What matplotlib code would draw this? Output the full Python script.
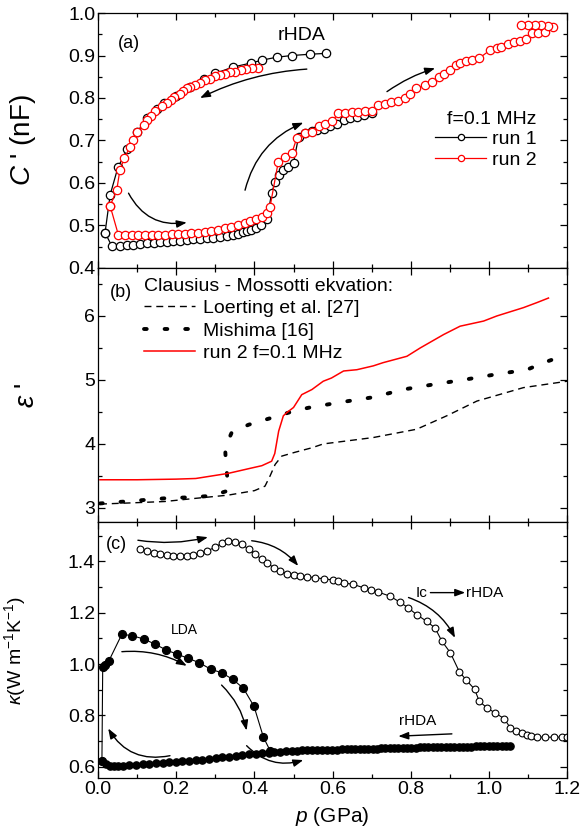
import matplotlib
matplotlib.use("Agg")
import matplotlib.pyplot as plt
from matplotlib.ticker import MultipleLocator, FormatStrFormatter

plt.rcParams["font.family"] = ["Liberation Sans", "DejaVu Sans"]
plt.rcParams["mathtext.fontset"] = "custom"
plt.rcParams["mathtext.rm"] = "Liberation Sans"
plt.rcParams["mathtext.it"] = "Liberation Sans:italic"

# ── (a) capacitance, f = 0.1 MHz ─────────────────────────────────────────────
run1_comp_p = [0.018, 0.035, 0.056, 0.073, 0.090, 0.107, 0.125, 0.142, 0.159, 0.176,
               0.193, 0.210, 0.227, 0.244, 0.261, 0.278, 0.295, 0.312, 0.329, 0.346,
               0.358, 0.370, 0.380, 0.392, 0.405, 0.418, 0.432, 0.444, 0.453, 0.464,
               0.474, 0.487, 0.500, 0.513, 0.530, 0.547, 0.560, 0.577, 0.594, 0.611,
               0.628, 0.645, 0.662, 0.680, 0.700]
run1_comp_c = [0.483, 0.452, 0.452, 0.454, 0.455, 0.456, 0.458, 0.459, 0.460, 0.462,
               0.463, 0.464, 0.465, 0.467, 0.468, 0.470, 0.471, 0.473, 0.475, 0.477,
               0.480, 0.485, 0.488, 0.490, 0.493, 0.500, 0.515, 0.576, 0.603, 0.619,
               0.631, 0.638, 0.648, 0.709, 0.718, 0.722, 0.725, 0.728, 0.733, 0.738,
               0.748, 0.752, 0.756, 0.760, 0.765]
run1_dec_p = [0.583, 0.542, 0.496, 0.457, 0.419, 0.390, 0.346, 0.300, 0.270, 0.235,
              0.200, 0.170, 0.150, 0.125, 0.100, 0.075, 0.051, 0.031, 0.018]
run1_dec_c = [0.905, 0.903, 0.900, 0.896, 0.889, 0.882, 0.873, 0.858, 0.845, 0.825,
              0.805, 0.788, 0.774, 0.752, 0.720, 0.680, 0.637, 0.572, 0.483]

run2_comp_p = [0.031, 0.052, 0.069, 0.086, 0.103, 0.120, 0.137, 0.154, 0.171, 0.188,
               0.205, 0.222, 0.239, 0.256, 0.273, 0.290, 0.307, 0.324, 0.341, 0.358,
               0.375, 0.389, 0.404, 0.419, 0.432, 0.440, 0.461, 0.478, 0.496, 0.508,
               0.530, 0.547, 0.564, 0.581, 0.598, 0.615, 0.632, 0.649, 0.666, 0.683,
               0.700, 0.716, 0.733, 0.750, 0.767, 0.784, 0.797, 0.814, 0.837, 0.854,
               0.871, 0.884, 0.900, 0.915, 0.927, 0.940, 0.957, 0.974, 1.003, 1.020,
               1.030, 1.048, 1.065, 1.078, 1.095, 1.109, 1.126, 1.143, 1.164, 1.151,
               1.134, 1.117, 1.100, 1.083]
run2_comp_c = [0.546, 0.478, 0.478, 0.478, 0.478, 0.478, 0.478, 0.478, 0.478, 0.479,
               0.480, 0.481, 0.482, 0.483, 0.485, 0.487, 0.490, 0.494, 0.497, 0.500,
               0.505, 0.511, 0.516, 0.521, 0.530, 0.544, 0.650, 0.662, 0.671, 0.705,
               0.717, 0.720, 0.733, 0.738, 0.745, 0.764, 0.765, 0.766, 0.767, 0.769,
               0.770, 0.783, 0.785, 0.790, 0.794, 0.800, 0.810, 0.823, 0.830, 0.838,
               0.850, 0.857, 0.865, 0.878, 0.883, 0.886, 0.890, 0.893, 0.913, 0.917,
               0.920, 0.928, 0.932, 0.935, 0.940, 0.954, 0.954, 0.956, 0.966, 0.969,
               0.971, 0.971, 0.971, 0.971]
run2_dec_p = [0.408, 0.393, 0.379, 0.365, 0.350, 0.338, 0.325, 0.312, 0.300, 0.287,
              0.274, 0.261, 0.247, 0.234, 0.227, 0.218, 0.210, 0.195, 0.186, 0.176,
              0.163, 0.147, 0.135, 0.125, 0.118, 0.100, 0.090, 0.082, 0.067, 0.056,
              0.048, 0.031]
run2_dec_c = [0.871, 0.870, 0.868, 0.865, 0.862, 0.860, 0.857, 0.854, 0.852, 0.845,
              0.842, 0.835, 0.830, 0.826, 0.823, 0.816, 0.810, 0.803, 0.795, 0.788,
              0.780, 0.769, 0.758, 0.748, 0.736, 0.720, 0.700, 0.685, 0.658, 0.631,
              0.584, 0.546]

# ── (b) permittivity: Clausius-Mossotti estimates and run 2 ─────────────────
loerting_p = [0.005, 0.09, 0.17, 0.25, 0.333, 0.40, 0.427, 0.44, 0.453, 0.47,
              0.504, 0.547, 0.576, 0.704, 0.815, 0.892, 0.969, 1.088, 1.2]
loerting_e = [3.06, 3.08, 3.10, 3.15, 3.20, 3.27, 3.34, 3.50, 3.68, 3.81,
              3.87, 3.94, 4.00, 4.10, 4.23, 4.44, 4.67, 4.88, 4.98]
mishima_p = [0.005, 0.09, 0.17, 0.25, 0.29, 0.333, 0.331, 0.327, 0.325, 0.342,
             0.385, 0.423, 0.461, 0.504, 0.542, 0.619, 0.704, 0.78, 0.858, 0.943,
             1.02, 1.097, 1.14, 1.2]
mishima_e = [3.07, 3.11, 3.15, 3.17, 3.19, 3.27, 3.45, 3.71, 3.94, 4.18,
             4.30, 4.37, 4.44, 4.52, 4.57, 4.65, 4.73, 4.85, 4.93, 5.01,
             5.09, 5.16, 5.27, 5.40]
run2_eps_p = [0.005, 0.10, 0.20, 0.25, 0.333, 0.39, 0.419, 0.444, 0.452, 0.462,
              0.474, 0.483, 0.50, 0.521, 0.547, 0.576, 0.597, 0.628, 0.662, 0.704,
              0.729, 0.79, 0.824, 0.884, 0.926, 0.986, 1.02, 1.088, 1.123, 1.152]
run2_eps = [3.44, 3.44, 3.45, 3.46, 3.54, 3.62, 3.66, 3.73, 3.85, 4.20,
            4.44, 4.49, 4.57, 4.77, 4.85, 4.98, 5.03, 5.14, 5.16, 5.22,
            5.27, 5.37, 5.50, 5.71, 5.84, 5.92, 6.00, 6.13, 6.21, 6.28]

# ── (c) thermal conductivity ────────────────────────────────────────────────
ic_p = [0.107, 0.125, 0.142, 0.159, 0.176, 0.193, 0.210, 0.227, 0.244, 0.261,
        0.278, 0.299, 0.317, 0.333, 0.351, 0.368, 0.385, 0.402, 0.419, 0.432,
        0.449, 0.466, 0.483, 0.500, 0.517, 0.534, 0.555, 0.577, 0.602, 0.615,
        0.628, 0.653, 0.679, 0.698, 0.717, 0.747, 0.773, 0.794, 0.815, 0.841,
        0.862, 0.879, 0.901, 0.924, 0.942, 0.963, 0.975, 0.995, 1.016, 1.039,
        1.054, 1.070, 1.084, 1.097, 1.107, 1.122, 1.143, 1.165, 1.186, 1.199]
ic_k = [1.447, 1.440, 1.434, 1.427, 1.424, 1.421, 1.421, 1.421, 1.424, 1.431,
        1.440, 1.454, 1.471, 1.480, 1.476, 1.467, 1.447, 1.427, 1.408, 1.395,
        1.375, 1.362, 1.352, 1.345, 1.342, 1.340, 1.336, 1.332, 1.327, 1.325,
        1.316, 1.310, 1.297, 1.290, 1.280, 1.264, 1.240, 1.218, 1.192, 1.166,
        1.140, 1.090, 1.044, 0.970, 0.937, 0.902, 0.855, 0.829, 0.809, 0.787,
        0.752, 0.741, 0.732, 0.722, 0.718, 0.715, 0.715, 0.715, 0.715, 0.715]
lda_p = [0.010, 0.012, 0.018, 0.028, 0.061, 0.088, 0.118, 0.146, 0.174, 0.201,
         0.231, 0.259, 0.288, 0.316, 0.345, 0.372, 0.399, 0.423, 0.440]
lda_k = [0.624, 0.990, 0.996, 1.013, 1.116, 1.110, 1.097, 1.077, 1.055, 1.039,
         1.022, 1.005, 0.980, 0.966, 0.940, 0.905, 0.835, 0.715, 0.663]
rhda_p = [1.054, 1.043, 1.032, 1.021, 1.010, 0.999, 0.988, 0.977, 0.966, 0.955,
          0.944, 0.933, 0.922, 0.911, 0.900, 0.889, 0.878, 0.867, 0.856, 0.845,
          0.834, 0.823, 0.812, 0.801, 0.790, 0.779, 0.768, 0.757, 0.746, 0.735,
          0.724, 0.713, 0.702, 0.691, 0.680, 0.669, 0.658, 0.647, 0.636, 0.625,
          0.612, 0.599, 0.586, 0.573, 0.560, 0.547, 0.534, 0.521, 0.508, 0.495,
          0.480, 0.465, 0.451, 0.437, 0.420, 0.403, 0.386, 0.369, 0.352, 0.335,
          0.318, 0.301, 0.284, 0.267, 0.250, 0.233, 0.216, 0.199, 0.182, 0.165,
          0.148, 0.131, 0.114, 0.097, 0.080, 0.063, 0.050, 0.040, 0.030, 0.020, 0.010]
rhda_k = [0.682, 0.682, 0.681, 0.681, 0.680, 0.680, 0.680, 0.679, 0.679, 0.678,
          0.678, 0.678, 0.677, 0.677, 0.677, 0.676, 0.676, 0.676, 0.676, 0.675,
          0.675, 0.675, 0.674, 0.674, 0.674, 0.673, 0.673, 0.673, 0.672, 0.672,
          0.672, 0.671, 0.671, 0.670, 0.670, 0.669, 0.669, 0.669, 0.668, 0.668,
          0.667, 0.667, 0.666, 0.666, 0.665, 0.665, 0.664, 0.664, 0.663, 0.663,
          0.661, 0.659, 0.657, 0.655, 0.652, 0.650, 0.648, 0.645, 0.642, 0.639,
          0.636, 0.634, 0.631, 0.628, 0.626, 0.623, 0.621, 0.619, 0.617, 0.615,
          0.613, 0.611, 0.609, 0.607, 0.605, 0.603, 0.602, 0.601, 0.604, 0.611, 0.624]

TICK_FS = 14
TEXT_FS = 14


def arrow(ax, start, end, rad=0.0):
    ax.annotate("", xy=end, xytext=start,
                arrowprops=dict(arrowstyle="-|>,head_length=0.6,head_width=0.22",
                                connectionstyle=f"arc3,rad={rad}",
                                color="black", lw=1.0, shrinkA=0, shrinkB=0))


def style_axis(ax):
    ax.tick_params(which="both", direction="in", top=True, right=True,
                   labelsize=TICK_FS, width=0.9, pad=2)
    ax.tick_params(which="major", length=5)
    ax.tick_params(which="minor", length=3)
    ax.xaxis.set_major_locator(MultipleLocator(0.2))
    ax.xaxis.set_minor_locator(MultipleLocator(0.1))
    for s in ax.spines.values():
        s.set_linewidth(0.9)


fig = plt.figure(figsize=(5.8, 8.34), dpi=100)
L, W = 0.169, 0.809
ax_a = fig.add_axes([L, 0.6787, W, 0.3057])
ax_b = fig.add_axes([L, 0.3741, W, 0.3046], sharex=ax_a)
ax_c = fig.add_axes([L, 0.0671, W, 0.3070], sharex=ax_a)

# (a)
ax = ax_a
open_kw = dict(marker="o", markersize=6, markerfacecolor="white", lw=0.9, mew=0.9)
ax.plot(run1_comp_p, run1_comp_c, color="black", **open_kw)
ax.plot(run1_dec_p, run1_dec_c, color="black", label="run 1", **open_kw)
ax.plot(run2_comp_p, run2_comp_c, color="red", **open_kw)
ax.plot(run2_dec_p, run2_dec_c, color="red", label="run 2", **open_kw)
ax.set_xlim(0.0, 1.2)
ax.set_ylim(0.4, 1.0)
ax.yaxis.set_major_locator(MultipleLocator(0.1))
ax.yaxis.set_minor_locator(MultipleLocator(0.05))
ax.yaxis.set_major_formatter(FormatStrFormatter("%.1f"))
style_axis(ax)
ax.tick_params(labelbottom=False)
ax.set_ylabel(r"$C$ ' (nF)", fontsize=20)
ax.yaxis.set_label_coords(-0.128, 0.5)
ax.text(0.078, 0.929, "(a)", fontsize=13, ha="center", va="center")
ax.text(0.52, 0.948, "rHDA", fontsize=TEXT_FS, ha="center", va="center")
leg = ax.legend(loc="upper right", bbox_to_anchor=(0.955, 0.655), frameon=False,
                title="f=0.1 MHz", fontsize=TEXT_FS, title_fontsize=TEXT_FS,
                handlelength=2.6, handletextpad=0.3, labelspacing=0.15,
                borderpad=0.0, markerscale=0.75, alignment="right")
arrow(ax, (0.078, 0.576), (0.227, 0.507), rad=0.35)
arrow(ax, (0.376, 0.583), (0.525, 0.742), rad=-0.25)
arrow(ax, (0.534, 0.868), (0.261, 0.800), rad=0.1)
arrow(ax, (0.739, 0.815), (0.862, 0.870), rad=-0.08)

# (b)
ax = ax_b
ax.plot(loerting_p, loerting_e, color="black", lw=1.0, ls=(0, (5, 3.5)),
        label="Loerting et al. [27]")
ax.plot(mishima_p, mishima_e, color="black", lw=2.8, ls=(0, (0.7, 4.6)),
        dash_capstyle="round", label="Mishima [16]")
ax.plot(run2_eps_p, run2_eps, color="red", lw=1.1, label="run 2 f=0.1 MHz")
ax.set_ylim(2.78, 6.75)
ax.yaxis.set_major_locator(MultipleLocator(1))
ax.yaxis.set_minor_locator(MultipleLocator(0.5))
style_axis(ax)
ax.tick_params(labelbottom=False)
ax.set_ylabel(r"$\varepsilon$ '", fontsize=20)
ax.yaxis.set_label_coords(-0.124, 0.5)
ax.text(0.059, 6.36, "(b)", fontsize=13, ha="center", va="center")
leg = ax.legend(loc="upper left", bbox_to_anchor=(0.078, 1.0), frameon=False,
                title="Clausius - Mossotti ekvation:", fontsize=TEXT_FS,
                title_fontsize=TEXT_FS, handlelength=2.6, handletextpad=0.4,
                labelspacing=0.25, borderpad=0.0, alignment="left")

# (c)
ax = ax_c
ax.plot(ic_p, ic_k, color="black", marker="o", markersize=4.9,
        markerfacecolor="white", lw=0.8, mew=0.8)
ax.plot(lda_p, lda_k, color="black", marker="o", markersize=5.6, lw=0.8)
ax.plot(rhda_p, rhda_k, color="black", marker="o", markersize=5.2, lw=0.8)
ax.set_ylim(0.556, 1.553)
ax.yaxis.set_major_locator(MultipleLocator(0.2))
ax.yaxis.set_minor_locator(MultipleLocator(0.1))
ax.yaxis.set_major_formatter(FormatStrFormatter("%.1f"))
ax.xaxis.set_major_formatter(FormatStrFormatter("%.1f"))
style_axis(ax)
ax.set_xlabel(r"$p$ (GPa)", fontsize=15, labelpad=5)
ax.set_ylabel(r"$\kappa$(W m$^{-1}$K$^{-1}$)", fontsize=14)
ax.yaxis.set_label_coords(-0.149, 0.5)
ax.text(0.047, 1.467, "(c)", fontsize=13, ha="center", va="center")
ax.text(0.221, 1.133, "LDA", fontsize=10, ha="center", va="center")
ax.text(0.828, 1.278, "Ic", fontsize=11, ha="center", va="center")
ax.text(0.988, 1.278, "rHDA", fontsize=11, ha="center", va="center")
ax.text(0.818, 0.780, "rHDA", fontsize=11, ha="center", va="center")
arrow(ax, (0.850, 1.278), (0.939, 1.278))
arrow(ax, (0.102, 1.482), (0.281, 1.494), rad=0.1)
arrow(ax, (0.393, 1.480), (0.512, 1.382), rad=-0.2)
arrow(ax, (0.794, 1.259), (0.913, 1.102), rad=-0.2)
arrow(ax, (0.061, 1.048), (0.227, 0.993), rad=-0.15)
arrow(ax, (0.316, 0.918), (0.380, 0.741), rad=-0.15)
arrow(ax, (0.184, 0.643), (0.026, 0.749), rad=-0.35)
arrow(ax, (0.380, 0.682), (0.525, 0.626), rad=0.3)
arrow(ax, (0.905, 0.728), (0.768, 0.719))

fig.savefig("out.png", dpi=100)
